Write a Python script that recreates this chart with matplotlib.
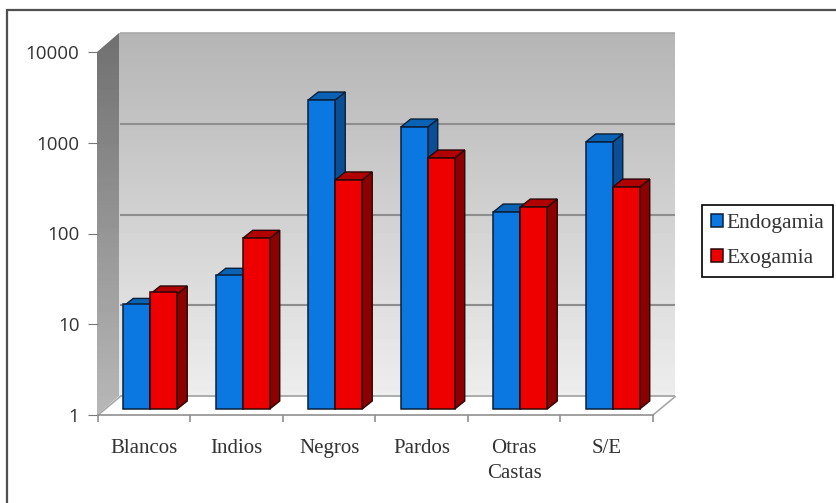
import numpy as np
import matplotlib
matplotlib.use("Agg")
import matplotlib.pyplot as plt
from matplotlib.patches import Polygon
from matplotlib.lines import Line2D
from matplotlib.transforms import offset_copy, IdentityTransform

W, H = 837, 503

categories = ["Blancos", "Indios", "Negros", "Pardos", "Otras\nCastas", "S/E"]
endogamia = [13.5, 29, 2540, 1280, 148, 876]
exogamia = [18.5, 76, 334, 583, 168, 279]
yticks = [1, 10, 100, 1000, 10000]

plt.rcParams["font.family"] = ["Liberation Serif", "DejaVu Serif"]

fig = plt.figure(figsize=(W / 100, H / 100), dpi=100)


def px_axes(x0, y0, x1, y1, **kw):
    # pixel box given from the top left of the picture
    return fig.add_axes([x0 / W, 1 - y1 / H, (x1 - x0) / W, (y1 - y0) / H], **kw)


def offset(ax, dx, dy):
    return offset_copy(ax.transData, fig=fig, x=dx, y=dy, units="dots")


# outer frame, only top and left are there
fig.add_artist(Line2D([7 / W, 7 / W, 1], [0, 1 - 9.5 / H, 1 - 9.5 / H], transform=fig.transFigure,
                      color="#505050", lw=1.6, solid_joinstyle="miter"))

# back wall and side wall gradients, behind the main axes
wall = px_axes(119, 33, 675, 397, zorder=0)
wall.imshow(np.linspace(0.71, 0.93, 100).reshape(-1, 1), cmap="gray", vmin=0, vmax=1, aspect="auto")
wall.axis("off")

side = px_axes(97, 33, 119, 415, zorder=0)
im = side.imshow(np.linspace(0.44, 0.72, 100).reshape(-1, 1), cmap="gray", vmin=0, vmax=1,
                 aspect="auto", extent=[0, 1, 0, 1], origin="upper")
clip = Polygon([[0, 0], [1, 19 / 382], [1, 1], [0, 1 - 19 / 382]], transform=side.transAxes)
side.add_patch(clip)
clip.set_visible(False)
im.set_clip_path(clip)
side.axis("off")

ax = px_axes(98, 52, 653, 415, zorder=1)
ax.patch.set_alpha(0)
ax.set_yscale("log")
ax.set_ylim(1, 10000)
ax.set_xlim(0, 6)

DEPTH = (22, 19)
back = offset(ax, *DEPTH)

# gridlines on the back wall, top edge and floor edges
ax.hlines(yticks[1:-1], 0, 6, transform=back, colors="#8e8e8e", lw=1.5, clip_on=False, zorder=1)
ax.hlines([yticks[-1]], 0, 6, transform=back, colors="#a8a8a8", lw=1.2, clip_on=False, zorder=1)
ax.hlines([yticks[0]], 0, 6, transform=back, colors="#a0a0a0", lw=1.2, clip_on=False, zorder=1)
ax.plot([6, 6.238], [1, 1.59], color="#a8a8a8", lw=1.2, clip_on=False, zorder=1)
ax.plot([0, 0.238], [1, 1.59], color="#a8a8a8", lw=1.2, clip_on=False, zorder=1)

# bars with faked 3d side and top faces
BAR_W = 27 / 92.5
bar_base = offset(ax, 6, 6)
fig.canvas.draw()


def draw_bars(xs, vals, front, side_c, top_c, edge, z, label):
    ax.bar(xs, vals, width=BAR_W, bottom=1, align="edge", color=front, ec=edge, lw=1.1,
           transform=bar_base, zorder=z + 1, label=label, clip_on=False)
    for x, v in zip(xs, vals):
        # side and top in screen pixels so the depth stays constant
        p = bar_base.transform([[x, 1], [x + BAR_W, 1], [x + BAR_W, v], [x, v]])
        d = np.array([10, 8])
        face = [p[1], p[2], p[2] + d, p[1] + d]
        top = [p[3], p[2], p[2] + d, p[3] + d]
        for pts, c in ((face, side_c), (top, top_c)):
            ax.add_patch(Polygon(pts, closed=True, fc=c, ec=edge, lw=1, transform=IdentityTransform(),
                                 zorder=z, clip_on=False))


x = np.arange(len(categories))
gap = 0.5 - BAR_W
draw_bars(x + gap, endogamia, "#0a78e0", "#0a4f96", "#0a62b4", "#0a2038", 2, "Endogamia")
draw_bars(x + 0.5, exogamia, "#ee0000", "#8c0000", "#b00000", "#2a0808", 4, "Exogamia")

# axes cosmetics
for s in ("top", "right", "left"):
    ax.spines[s].set_visible(False)
ax.spines["bottom"].set_color("#909090")
ax.spines["bottom"].set_linewidth(1.2)
ax.set_yticks(yticks)
ax.set_yticklabels([str(t) for t in yticks], fontsize=13.5, color="#333333", family="Open Sans")
ax.minorticks_off()
ax.tick_params(axis="y", length=7, color="#777777", pad=6.4)
ax.set_xticks(range(7))
ax.set_xticklabels([])
ax.tick_params(axis="x", length=5, color="#909090", width=1.2)
for i, c in enumerate(categories):
    ax.text(i + 0.5, -0.067, c, transform=ax.get_xaxis_transform(), ha="center", va="top",
            fontsize=15, color="#333333", linespacing=1.4)

# legend
leg = fig.legend(handles=ax.containers, labels=["Endogamia", "Exogamia"], loc="upper left",
                 bbox_to_anchor=(702 / W, 1 - 205 / H), fontsize=15.5, frameon=True, fancybox=False,
                 edgecolor="black", framealpha=1, handlelength=0.56, handleheight=0.55,
                 handletextpad=0.19, labelspacing=0.76, borderpad=0.4, borderaxespad=0)
leg.get_frame().set_linewidth(1.2)
for t in leg.get_texts():
    t.set_color("#333333")

fig.savefig("out.png", dpi=100)
